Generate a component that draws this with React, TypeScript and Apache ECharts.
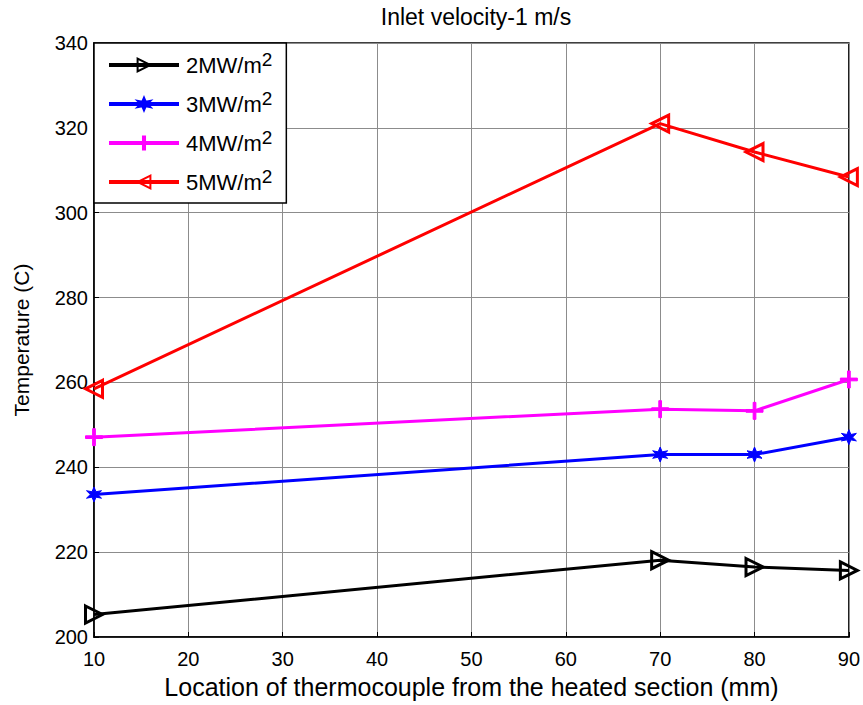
import React, { useEffect, useRef } from "react";
import * as echarts from "echarts";

const xValues = [10, 70, 80, 90];
const series2MW = [205.3, 218.1, 216.5, 215.7];
const series3MW = [233.6, 243.0, 243.0, 247.1];
const series4MW = [247.1, 253.7, 253.3, 260.7];
const series5MW = [258.5, 321.0, 314.3, 308.4];
const seriesNames = ["2MW/m{sup|2}", "3MW/m{sup|2}", "4MW/m{sup|2}", "5MW/m{sup|2}"];
const legendLabels = ["2MW/m", "3MW/m", "4MW/m", "5MW/m"];

const triRight = "path://M0,0 L10,5 L0,10 Z";
const triLeft = "path://M10,0 L0,5 L10,10 Z";
const plusPath = "path://M4.2,0 L5.8,0 L5.8,4.2 L10,4.2 L10,5.8 L5.8,5.8 L5.8,10 L4.2,10 L4.2,5.8 L0,5.8 L0,4.2 L4.2,4.2 Z";
const starPath = "path://M5,0 L6.2,3.2 L9.5,2.5 L7.2,5 L9.5,7.5 L6.2,6.8 L5,10 L3.8,6.8 L0.5,7.5 L2.8,5 L0.5,2.5 L3.8,3.2 Z";

const font = "Liberation Sans, Arial, sans-serif";

export default function App() {
  const ref = useRef<HTMLDivElement>(null);
  useEffect(() => {
    if (!ref.current) return;
    const chart = echarts.init(ref.current, null, { renderer: "svg" });
    const mk = (i: number, data: number[], color: string, symbol: string, size: number, hollow: boolean) => ({
      name: legendLabels[i],
      type: "line",
      data: xValues.map((x, j) => [x, data[j]]),
      symbol,
      symbolSize: size,
      showAllSymbol: true,
      lineStyle: { color, width: 3 },
      itemStyle: hollow
        ? { color: "rgba(255,255,255,0)", borderColor: color, borderWidth: 3 }
        : { color, borderColor: color, borderWidth: 1 },
      z: 3,
    });
    chart.setOption({
      animation: false,
      backgroundColor: "#fff",
      title: {
        text: "Inlet velocity-1 m/s",
        left: 471,
        top: 0,
        textAlign: "center",
        textStyle: { fontFamily: font, fontSize: 23, fontWeight: "normal", color: "#000" },
      },
      grid: {
        left: 94,
        right: 13,
        top: 43,
        bottom: 68,
        show: true,
        borderColor: "#000",
        borderWidth: 1.5,
        backgroundColor: "#fff",
      },
      legend: {
        orient: "vertical",
        left: 94,
        top: 43,
        padding: [7, 14, 6, 13],
        itemGap: 9,
        itemWidth: 70,
        itemHeight: 16,
        backgroundColor: "#fff",
        borderColor: "#000",
        borderWidth: 1.5,
        borderRadius: 0,
        lineStyle: { width: 4 },
        formatter: (name: string) => {
          const i = legendLabels.indexOf(name);
          return i >= 0 ? seriesNames[i] : name;
        },
        textStyle: {
          fontFamily: font,
          fontSize: 22,
          lineHeight: 30,
          color: "#000",
          padding: [0, 0, 0, 2],
          rich: {
            sup: { fontFamily: font, fontSize: 19, lineHeight: 14, verticalAlign: "top", color: "#000" },
          },
        },
      },
      xAxis: {
        type: "value",
        min: 10,
        max: 90,
        interval: 10,
        name: "Location of thermocouple from the heated section (mm)",
        nameLocation: "middle",
        nameGap: 37,
        nameTextStyle: { fontFamily: font, fontSize: 25, color: "#000" },
        axisLine: { show: true, lineStyle: { color: "#000", width: 1.5 } },
        axisTick: { show: true, inside: true, length: 5, lineStyle: { color: "#000" } },
        axisLabel: { fontFamily: font, fontSize: 20, color: "#000", margin: 12 },
        splitLine: { show: true, lineStyle: { color: "#8c8c8c", width: 1 } },
      },
      yAxis: {
        type: "value",
        min: 200,
        max: 340,
        interval: 20,
        name: "Temperature (C)",
        nameLocation: "middle",
        nameGap: 62,
        nameTextStyle: { fontFamily: font, fontSize: 21, color: "#000" },
        axisLine: { show: true, lineStyle: { color: "#000", width: 1.5 } },
        axisTick: { show: true, inside: true, length: 5, lineStyle: { color: "#000" } },
        axisLabel: { fontFamily: font, fontSize: 20, color: "#000", margin: 6 },
        splitLine: { show: true, lineStyle: { color: "#8c8c8c", width: 1 } },
      },
      series: [
        mk(0, series2MW, "#000000", triRight, 17, true),
        mk(1, series3MW, "#0000ff", starPath, 15, false),
        mk(2, series4MW, "#ff00ff", plusPath, 17, false),
        mk(3, series5MW, "#ff0000", triLeft, 17, true),
      ],
    });
    return () => chart.dispose();
  }, []);
  return <div ref={ref} style={{ width: 863, height: 705, position: "absolute", left: 0, top: 0 }} />;
}
